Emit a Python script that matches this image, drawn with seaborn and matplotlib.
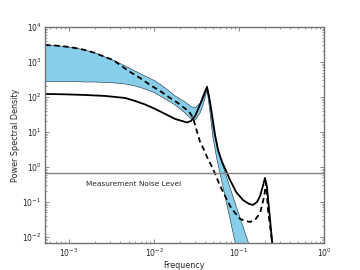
import numpy as np
import pandas as pd
import matplotlib
matplotlib.use("Agg")
import matplotlib.pyplot as plt
import seaborn as sns

# values
band_freq = [5.22e-4, 6.84e-4, 8.97e-4, 1.18e-3, 1.54e-3, 2.02e-3, 2.65e-3, 3.48e-3,
             4.56e-3, 5.98e-3, 7.83e-3, 1.03e-2, 1.35e-2, 1.77e-2, 2.32e-2, 2.65e-2,
             3.04e-2, 3.48e-2, 3.77e-2, 3.98e-2, 4.2e-2, 4.44e-2, 4.69e-2, 4.94e-2,
             5.51e-2, 6.14e-2, 8.97e-2, 0.103, 0.128, 0.154]
band_upper = [3060, 2960, 2770, 2510, 2200, 1810, 1390, 1070, 769, 553, 398, 287,
              181, 107, 72, 55.3, 48.5, 67.4, 114, 158, 206, 107, 37.3, 13, 3.98,
              1.58, 0.094, 0.035, 0.0072, 0.0018]
band_lower = [277, 277, 277, 277, 268, 268, 260, 251, 235, 206, 169, 130, 87.7, 59,
              34.9, 25.1, 22, 34.9, 59, 93.6, 158, 59, 19.3, 6.74, 1.58, 0.485,
              0.0072, 0.0016, 1e-4, 3e-5]

solid_freq = [5.22e-4, 8.97e-4, 1.54e-3, 2.65e-3, 4.56e-3, 5.98e-3, 7.83e-3, 1.03e-2,
              1.35e-2, 1.77e-2, 2.13e-2, 2.44e-2, 2.72e-2, 3.04e-2, 3.38e-2, 3.67e-2,
              3.98e-2, 4.2e-2, 4.56e-2, 4.81e-2, 5.22e-2, 5.66e-2, 6.31e-2, 7.22e-2,
              7.83e-2, 9.22e-2, 0.111, 0.131, 0.146, 0.163, 0.177, 0.191, 0.202,
              0.213, 0.232, 0.245, 0.258]
solid_psd = [122, 119, 114, 107, 93.6, 76.9, 61, 45.4, 32.7, 23.5, 20.6, 18.7, 20.6,
             28.6, 51.8, 82, 139, 193, 72, 30.6, 8.2, 3.06, 1.39, 0.67, 0.425, 0.193,
             0.114, 0.0877, 0.082, 0.1, 0.148, 0.287, 0.485, 0.27, 0.0306, 0.0072,
             0.0016]

dash_freq = [5.22e-4, 6.84e-4, 8.97e-4, 1.18e-3, 1.54e-3, 2.02e-3, 2.65e-3, 3.3e-3,
             3.98e-3, 5.22e-3, 6.84e-3, 8.97e-3, 1.18e-2, 1.54e-2, 1.91e-2, 2.19e-2,
             2.44e-2, 2.65e-2, 2.88e-2, 3.21e-2, 3.48e-2, 3.77e-2, 4.2e-2, 4.81e-2,
             5.36e-2, 5.98e-2, 6.84e-2, 7.83e-2, 8.97e-2, 0.103, 0.118, 0.135, 0.154,
             0.177, 0.197, 0.208, 0.219, 0.245, 0.258]
dash_psd = [3060, 2960, 2770, 2510, 2200, 1810, 1390, 1140, 821, 518, 349, 220, 148,
            93.6, 67.4, 51.8, 42.6, 34.9, 25.1, 10, 5.2, 3.5, 1.93, 1.0, 0.553, 0.287,
            0.148, 0.0769, 0.0485, 0.0327, 0.0286, 0.0268, 0.0306, 0.0485, 0.139,
            0.35, 0.059, 0.0072, 0.0016]

noise_level = 0.67

sns.set_style("ticks")
plt.rcParams["font.family"] = ["DejaVu Sans"]

fig = plt.figure(figsize=(3.6, 2.7), dpi=100)
ax = fig.add_axes([0.125, 0.1, 0.775, 0.8])

# confidence band
ax.fill_between(band_freq, band_lower, band_upper, facecolor="#87CEEB",
                edgecolor="#1a2a3a", linewidth=0.4)
sns.lineplot(x=solid_freq, y=solid_psd, ax=ax, color="k", lw=1.3, sort=False)
sns.lineplot(x=dash_freq, y=dash_psd, ax=ax, color="k", lw=1.3, sort=False,
             linestyle=(0, (3, 2)))
ax.axhline(noise_level, color="gray", lw=1)
ax.text(1.6e-3, 0.33, "Measurement Noise Level", fontsize=5.3, va="center")

ax.set_xscale("log")
ax.set_yscale("log")
ax.set_xlim(5.2e-4, 1.0)
ax.set_ylim(6.7e-3, 1e4)

ax.set_xlabel("Frequency", fontsize=5.8, labelpad=1.5)
ax.set_ylabel("Power Spectral Density", fontsize=5.8, labelpad=1.5)
ax.tick_params(which="both", direction="in", top=True, right=True,
               labelsize=5.5, color="0.45", pad=2.5)
ax.tick_params(which="major", length=3, width=0.6)
ax.tick_params(which="minor", length=1.5, width=0.5)
for s in ax.spines.values():
    s.set_color("0.45")
    s.set_linewidth(1)

fig.savefig("out.png", dpi=100)
